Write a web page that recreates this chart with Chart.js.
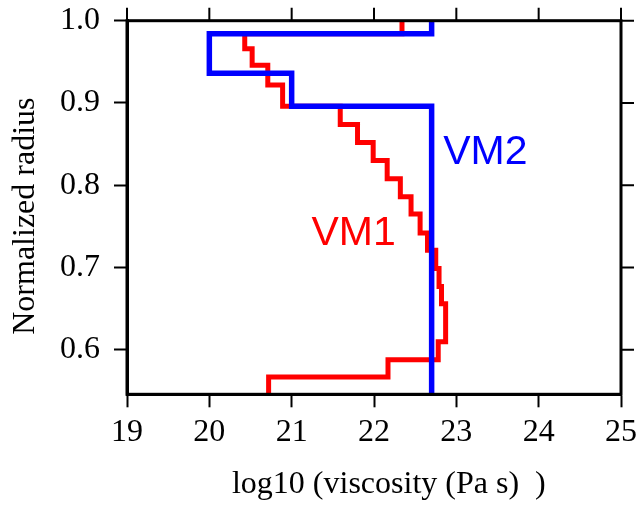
<!DOCTYPE html>
<html>
<head>
<meta charset="utf-8">
<script src="https://cdn.jsdelivr.net/npm/chart.js@4/dist/chart.umd.min.js"></script>
<style>
  html, body { margin: 0; padding: 0; background: #fff; }
  #wrap { width: 639px; height: 506px; }
</style>
</head>
<body>
<div id="wrap"><canvas id="viscChart" width="639" height="506"></canvas></div>
<script>
// layer boundaries (normalized radius, top to bottom) and log10 viscosity per layer
const vm1Radii = [1.0, 0.984, 0.966, 0.946, 0.922, 0.896, 0.874, 0.852, 0.830, 0.808, 0.786,
                  0.765, 0.742, 0.721, 0.699, 0.677, 0.656, 0.610, 0.588, 0.567, 0.546];
const vm1Visc  = [22.34, 20.43, 20.52, 20.71, 20.89, 21.59, 21.80, 21.99, 22.16, 22.32,
                  22.45, 22.56, 22.65, 22.75, 22.79, 22.82, 22.87, 22.78, 22.17, 20.72];

const vm2Radii = [1.0, 0.984, 0.936, 0.896, 0.546];
const vm2Visc  = [22.7, 20.0, 21.0, 22.7];

const xTicks = [19, 20, 21, 22, 23, 24, 25];
const yTicks = [0.6, 0.7, 0.8, 0.9, 1.0];

const serif = '"Liberation Serif", "Times New Roman", serif';
const sans = '"Liberation Sans", Arial, sans-serif';

// turn layer lists into a stepped profile
function profile(radii, visc){
    const pts = [];
    visc.forEach((v, i) => {
        pts.push({x: v, y: radii[i]});
        pts.push({x: v, y: radii[i+1]});
    });
    return pts;
}

// fixed axis box, no extra room for overhanging labels
function fixBox(s, size){
    if(s.isHorizontal()) s.height = size; else s.width = size;
    s.paddingTop = s.paddingBottom = s.paddingLeft = s.paddingRight = 0;
}

// frame, ticks on top/right, axis titles, model names
const framePlugin = {
    id: 'frame',
    afterDatasetsDraw(chart){
        const {ctx, chartArea: a, scales: {x, y}} = chart;
        ctx.save();
        ctx.strokeStyle = '#000';
        ctx.lineWidth = 2;
        ctx.beginPath();
        xTicks.forEach(v => {
            const px = x.getPixelForValue(v);
            ctx.moveTo(px, a.top); ctx.lineTo(px, a.top - 13);
        });
        yTicks.forEach(v => {
            const py = y.getPixelForValue(v);
            ctx.moveTo(a.right, py); ctx.lineTo(a.right + 13, py);
        });
        ctx.stroke();
        ctx.lineWidth = 3;
        ctx.strokeRect(a.left, a.top, a.right - a.left, a.bottom - a.top);

        ctx.fillStyle = '#000';
        ctx.font = '32px ' + serif;
        ctx.textAlign = 'center';
        ctx.textBaseline = 'alphabetic';
        ctx.fillText('log10 (viscosity (Pa s)  )', x.getPixelForValue(22.18), 493);
        ctx.save();
        ctx.translate(33.5, y.getPixelForValue(0.7625));
        ctx.rotate(-Math.PI / 2);
        ctx.fillText('Normalized radius', 0, 0);
        ctx.restore();

        ctx.font = '41px ' + sans;
        ctx.textAlign = 'left';
        ctx.fillStyle = '#ff0000';
        ctx.fillText('VM1', x.getPixelForValue(21.24), y.getPixelForValue(0.727));
        ctx.fillStyle = '#0000ff';
        ctx.fillText('VM2', x.getPixelForValue(22.84), y.getPixelForValue(0.826));
        ctx.restore();
    }
};

new Chart(document.getElementById('viscChart').getContext('2d'), {
    type: 'scatter',
    data: {
        datasets: [
            {
                label: 'VM2',
                data: profile(vm2Radii, vm2Visc),
                showLine: true,
                borderColor: '#0000ff',
                borderWidth: 5.5,
                pointRadius: 0,
                order: 0
            },
            {
                label: 'VM1',
                data: profile(vm1Radii, vm1Visc),
                showLine: true,
                borderColor: '#ff0000',
                borderWidth: 5,
                pointRadius: 0,
                order: 1
            }
        ]
    },
    options: {
        responsive: false,
        animation: false,
        layout: { padding: { left: 0, right: 18, top: 20.7, bottom: 0 } },
        plugins: {
            legend: { display: false },
            tooltip: { enabled: false }
        },
        scales: {
            x: {
                type: 'linear',
                min: 19, max: 25,
                afterBuildTicks: s => { s.ticks = xTicks.map(v => ({value: v})); },
                afterFit: s => fixBox(s, 111.7),
                ticks: { color: '#000', font: { family: serif, size: 32 }, padding: 6, maxRotation: 0 },
                grid: { drawOnChartArea: false, tickLength: 13, tickWidth: 2, tickColor: '#000' },
                border: { color: '#000', width: 3 }
            },
            y: {
                type: 'linear',
                min: 0.546, max: 1.0,
                afterBuildTicks: s => { s.ticks = yTicks.map(v => ({value: v})); },
                afterFit: s => fixBox(s, 127),
                ticks: {
                    color: '#000', font: { family: serif, size: 32 }, padding: 14,
                    callback: v => v.toFixed(1)
                },
                grid: { drawOnChartArea: false, tickLength: 13, tickWidth: 2, tickColor: '#000' },
                border: { color: '#000', width: 3 }
            }
        }
    },
    plugins: [framePlugin]
});
</script>
</body>
</html>
